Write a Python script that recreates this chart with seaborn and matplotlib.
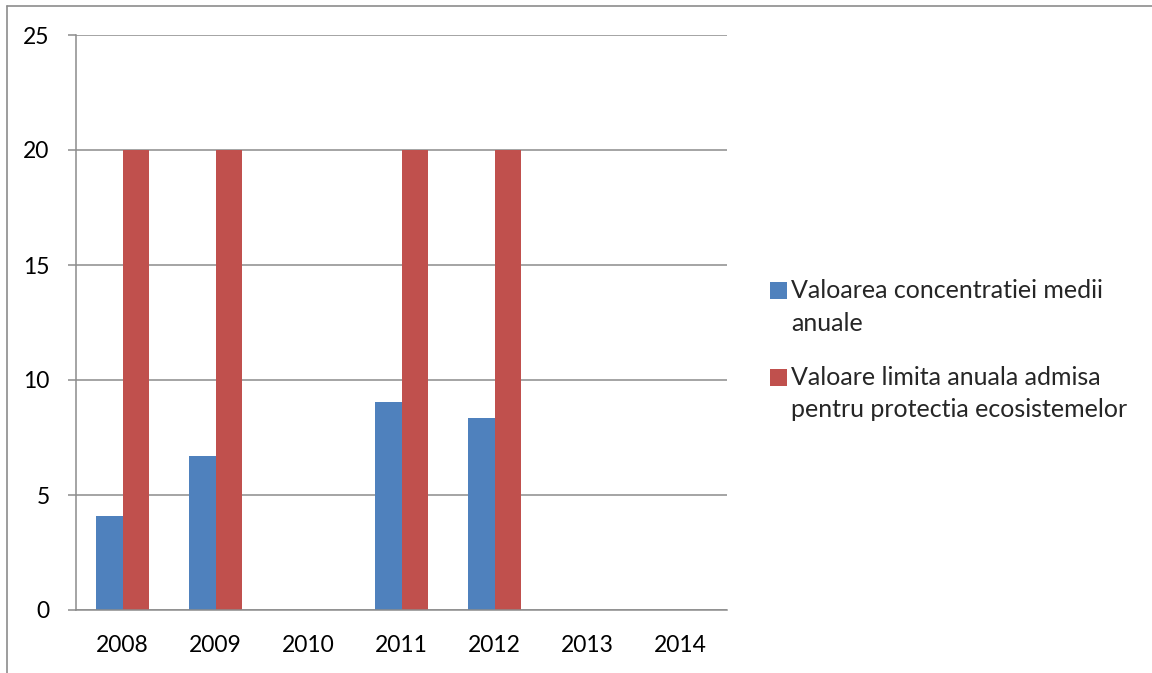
import numpy as np
import pandas as pd
import matplotlib
matplotlib.use("Agg")
import matplotlib.pyplot as plt
import seaborn as sns
from matplotlib.lines import Line2D
from matplotlib.patches import Rectangle
from matplotlib.legend_handler import HandlerPatch

years = ["2008", "2009", "2010", "2011", "2012", "2013", "2014"]
medie = [4.1, 6.7, np.nan, 9.05, 8.35, np.nan, np.nan]
limita = [20, 20, np.nan, 20, 20, np.nan, np.nan]
serii = ["Valoarea concentratiei medii\nanuale",
         "Valoare limita anuala admisa\npentru protectia ecosistemelor"]
culori = ["#4F81BD", "#C0504D"]

df = pd.DataFrame({
    "an": years * 2,
    "valoare": medie + limita,
    "serie": [serii[0]] * len(years) + [serii[1]] * len(years),
})

sns.set_theme(style="white")
plt.rcParams["font.family"] = ["Lato", "DejaVu Sans"]

fig = plt.figure(figsize=(11.52, 6.73), dpi=100)
ax = fig.add_axes([76 / 1152, 1 - 610 / 673, (727 - 76) / 1152, (610 - 35) / 673])

sns.barplot(data=df, x="an", y="valoare", hue="serie", order=years,
            hue_order=serii, palette=culori, width=0.57, gap=0,
            linewidth=0, saturation=1, ax=ax)

ax.set_ylim(0, 25)
ax.set_xlim(-0.5, 6.5)
ax.set_yticks([0, 5, 10, 15, 20, 25])
ax.set_xlabel("")
ax.set_ylabel("")
ax.yaxis.grid(True, color="#8c8c8c", linewidth=1.1)
ax.set_axisbelow(True)
for s in ["top", "right"]:
    ax.spines[s].set_visible(False)
for s in ["left", "bottom"]:
    ax.spines[s].set_color("#8c8c8c")
    ax.spines[s].set_linewidth(1.1)

ax.set_xticks(np.arange(-0.5, 7, 1), minor=True)
ax.tick_params(axis="x", which="major", length=0, pad=18, labelsize=16.5, colors="black")
ax.tick_params(axis="x", which="minor", length=7, width=1.1, color="#8c8c8c", direction="out")
ax.tick_params(axis="y", length=6, width=1.1, color="#8c8c8c", direction="out",
               left=True, pad=13, labelsize=16.5, labelcolor="black")

fs = 18


# patratul din legenda aliniat cu primul rand al textului
def patrat_sus(legend, orig_handle, xdescent, ydescent, width, height, fontsize):
    return Rectangle((-xdescent, -ydescent + 0.68 * fontsize), width, height)


handles, labels = ax.get_legend_handles_labels()
leg = ax.legend(handles, labels, loc="upper left",
                bbox_to_anchor=(770 / 1152, 1 - 279 / 673),
                bbox_transform=fig.transFigure, frameon=False, fontsize=fs,
                handlelength=0.68, handleheight=0.68, handletextpad=0.15,
                labelspacing=1.25, borderpad=0, borderaxespad=0,
                handler_map={h: HandlerPatch(patch_func=patrat_sus) for h in handles})
for t in leg.get_texts():
    t.set_linespacing(1.5)

# chenarul paginii
fig.add_artist(Line2D([7 / 1152, 7 / 1152], [0, 1 - 6 / 673], color="#8c8c8c", lw=1.2))
fig.add_artist(Line2D([7 / 1152, 1], [1 - 6 / 673, 1 - 6 / 673], color="#8c8c8c", lw=1.2))

fig.savefig("out.png", dpi=100)
